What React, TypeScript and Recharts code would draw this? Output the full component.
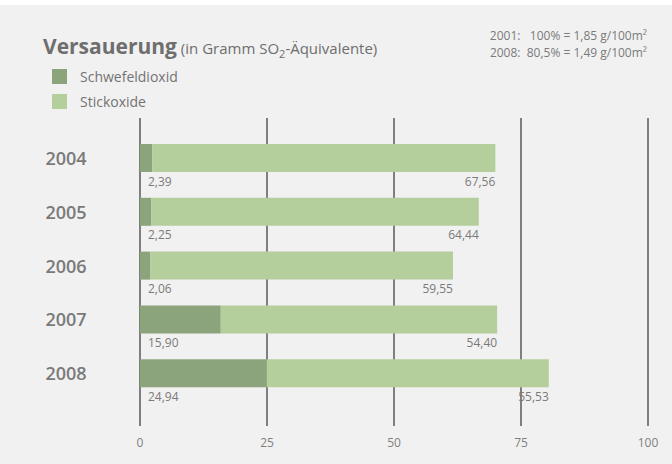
import { BarChart, Bar, XAxis, YAxis, CartesianGrid, LabelList } from 'recharts';

const years = ['2004', '2005', '2006', '2007', '2008'];
const schwefeldioxid = [2.39, 2.25, 2.06, 15.9, 24.94];
const stickoxide = [67.56, 64.44, 59.55, 54.4, 55.53];
const xTicks = [0, 25, 50, 75, 100];

const data = years.map((year, i) => ({
  year,
  so2: schwefeldioxid[i],
  nox: stickoxide[i],
}));

const FONT = '"Open Sans", "Noto Sans", sans-serif';
const DARK = '#8ba47b';
const LIGHT = '#b4ce9c';
const TEXT = '#7a7a7a';

const fmt = (v: number) => v.toFixed(2).replace('.', ',');

const YearTick = (props: any) => {
  const { y, payload } = props;
  return (
    <text x={66} y={y} textAnchor="middle" dominantBaseline="central"
      fontFamily={FONT} fontSize={18} fontWeight={600} fill={TEXT}>
      {payload.value}
    </text>
  );
};

const startLabel = (props: any) => {
  const { x, y, height, value } = props;
  return (
    <text x={x + 8} y={y + height + 9} dominantBaseline="central"
      fontFamily={FONT} fontSize={12} fill={TEXT}>
      {fmt(value)}
    </text>
  );
};

const endLabel = (props: any) => {
  const { x, y, width, height, value } = props;
  return (
    <text x={x + width} y={y + height + 9} textAnchor="end" dominantBaseline="central"
      fontFamily={FONT} fontSize={12} fill={TEXT}>
      {fmt(value)}
    </text>
  );
};

export default function App() {
  return (
    <div style={{ position: 'absolute', left: 0, top: 0, width: 672, height: 464, background: '#fff', fontFamily: FONT }}>
      <div style={{ position: 'absolute', left: 0, top: 5, width: 672, height: 459, background: '#f1f1f1' }} />

      {/* title */}
      <div style={{ position: 'absolute', left: 43, top: 32, whiteSpace: 'nowrap', color: '#6e6e6e', lineHeight: '28px' }}>
        <span style={{ fontSize: 21, fontWeight: 700 }}>Versauerung</span>
        <span style={{ fontSize: 15 }}> (in Gramm SO<sub style={{ fontSize: 11 }}>2</sub>-Äquivalente)</span>
      </div>

      {/* reference values */}
      <div style={{ position: 'absolute', right: 25, top: 27, textAlign: 'right', whiteSpace: 'pre', fontSize: 12, lineHeight: '17px', color: TEXT }}>
        {'2001:   100% = 1,85 g/100m²\n2008:  80,5% = 1,49 g/100m²'}
      </div>

      {/* legend */}
      <div style={{ position: 'absolute', left: 52, top: 69, fontSize: 14, color: '#737373' }}>
        {[{ name: 'Schwefeldioxid', color: DARK }, { name: 'Stickoxide', color: LIGHT }].map((item, i) => (
          <div key={item.name} style={{ position: 'absolute', top: i * 25, left: 0, whiteSpace: 'nowrap' }}>
            <div style={{ position: 'absolute', left: 0, top: 0, width: 15, height: 15, background: item.color }} />
            <div style={{ position: 'absolute', left: 28, top: -2, lineHeight: '20px' }}>{item.name}</div>
          </div>
        ))}
      </div>

      <div style={{ position: 'absolute', left: 0, top: 0 }}>
        <BarChart width={672} height={464} data={data} layout="vertical"
          margin={{ top: 118, right: 24, bottom: 8, left: 40 }} barSize={28}>
          <XAxis type="number" domain={[0, 100]} ticks={xTicks} axisLine={false} tickLine={false}
            tickMargin={6} tick={{ fill: '#808080', fontSize: 12, fontFamily: FONT }} />
          <YAxis type="category" dataKey="year" width={100} axisLine={false} tickLine={false}
            padding={{ top: 13, bottom: 26 }} tick={<YearTick />} />
          <Bar dataKey="so2" stackId="a" fill={DARK} isAnimationActive={false}>
            <LabelList dataKey="so2" content={startLabel} />
          </Bar>
          <Bar dataKey="nox" stackId="a" fill={LIGHT} isAnimationActive={false}>
            <LabelList dataKey="nox" content={endLabel} />
          </Bar>
          <CartesianGrid horizontal={false} stroke="#7f7f7f" strokeWidth={2} />
        </BarChart>
      </div>
    </div>
  );
}
